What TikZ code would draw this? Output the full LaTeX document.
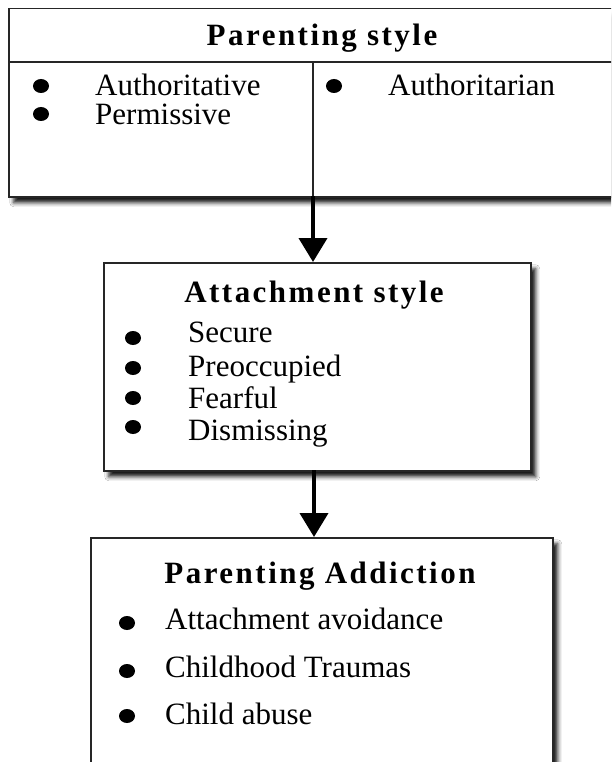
\documentclass[tikz,border=0pt]{standalone}
\usepackage{fontspec}
\setmainfont{Liberation Serif}
\newfontfamily\titlefont[LetterSpace=8]{Liberation Serif}
\usetikzlibrary{arrows.meta,shadows.blur,shapes.geometric}
\begin{document}
\begin{tikzpicture}[x=1pt,y=-1pt,
  box/.style={draw=black!85, line width=1.5pt, fill=white,
    blur shadow={shadow xshift=5pt, shadow yshift=-6pt, shadow blur radius=4pt, shadow opacity=90},
    inner sep=0pt, anchor=north west},
  rule/.style={draw=black!85, line width=1.5pt},
  ttl/.style={font=\titlefont\bfseries\fontsize{31}{36}\selectfont, anchor=base, inner sep=0pt},
  txt/.style={font=\fontsize{31}{36}\selectfont, anchor=base west, inner sep=0pt},
  dot/.style={ellipse, fill=black, inner sep=0pt, minimum width=16pt, minimum height=14pt},
  arr/.style={line width=4pt, -{Triangle[width=28pt,length=24pt]}}]
\clip (0,0) rectangle (611,762);
\fill[white] (0,0) rectangle (611,762);
% top box
\node[box, minimum width=617pt, minimum height=188pt] (ps) at (8,8) {};
\coordinate (hl) at (8,62);
\coordinate (hr) at (625,62);
\coordinate (dv) at (313,62);
\coordinate (db) at (313,196);
\draw[rule] (hl) -- (hr);
\draw[rule] (dv) -- (db);
\node[ttl] (pst) at (322,46) {Parenting style};
\node[dot] (b1) at (41,86) {};
\node[txt] (t1) at (95,96) {Authoritative};
\node[dot] (b2) at (41,114) {};
\node[txt] (t2) at (95,125) {Permissive};
\node[dot] (b3) at (334,86) {};
\node[txt] (t3) at (388,96) {Authoritarian};
% attachment box
\node[box, minimum width=427pt, minimum height=208pt] (as) at (103,262) {};
\node[ttl] (ast) at (314,302) {Attachment style};
\node[dot] (c1) at (133,338) {};
\node[txt] (u1) at (188,342) {Secure};
\node[dot] (c2) at (133,368) {};
\node[txt] (u2) at (188,376) {Preoccupied};
\node[dot] (c3) at (133,398) {};
\node[txt] (u3) at (188,408) {Fearful};
\node[dot] (c4) at (133,427) {};
\node[txt] (u4) at (188,440) {Dismissing};
% addiction box
\node[box, minimum width=462pt, minimum height=240pt] (pa) at (90,537) {};
\node[ttl] (pat) at (320,583) {Parenting Addiction};
\node[dot] (e1) at (127,623) {};
\node[txt] (v1) at (165,629) {Attachment avoidance};
\node[dot] (e2) at (127,671) {};
\node[txt] (v2) at (165,677) {Childhood Traumas};
\node[dot] (e3) at (127,716) {};
\node[txt] (v3) at (165,724) {Child abuse};
% arrows
\coordinate (a2s) at (314,470);
\draw[arr] (db) -- (db |- as.north);
\draw[arr] (a2s) -- (a2s |- pa.north);
\end{tikzpicture}
\end{document}
